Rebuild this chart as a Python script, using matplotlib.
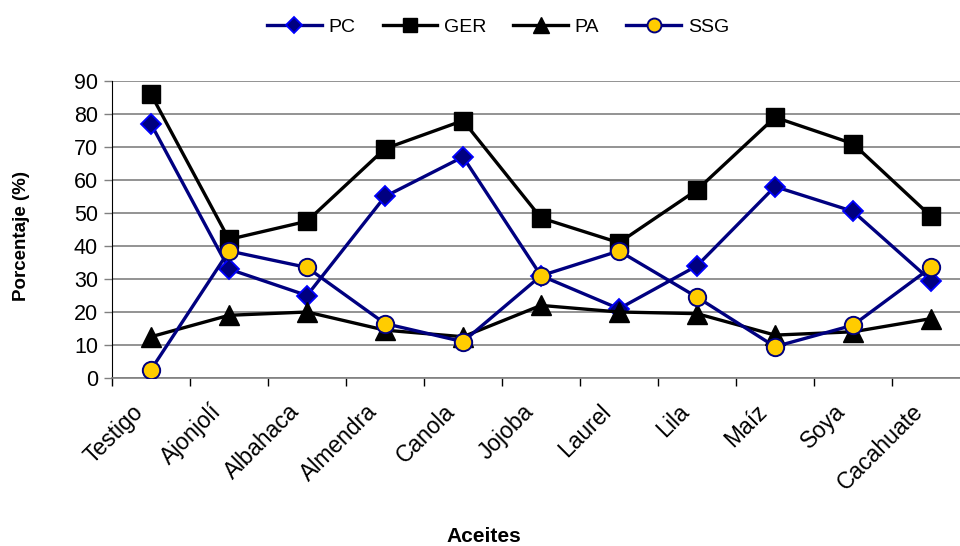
import matplotlib
matplotlib.use("Agg")
import matplotlib.pyplot as plt
import matplotlib.transforms as mtransforms
import numpy as np

plt.rcParams['font.family'] = ['Liberation Sans', 'DejaVu Sans']

categories = ["Testigo", "Ajonjolí", "Albahaca", "Almendra", "Canola", "Jojoba",
              "Laurel", "Lila", "Maíz", "Soya", "Cacahuate"]
pc = [77, 33, 25, 55, 67, 31, 21, 34, 58, 50.5, 29.5]
ger = [86, 42, 47.5, 69.5, 78, 48.5, 41, 57, 79, 71, 49]
pa = [12.5, 19, 20, 14.5, 12.5, 22, 20, 19.5, 13, 14, 18]
ssg = [2.5, 38.5, 33.5, 16.5, 11, 31, 38.5, 24.5, 9.5, 16, 33.5]
yticks = [0, 10, 20, 30, 40, 50, 60, 70, 80, 90]

fig = plt.figure(figsize=(9.6, 5.46), dpi=100)
ax = fig.add_axes([112/960, 1-378/546, 858/960, (378-81)/546])

x = np.arange(len(categories))
navy = "#000080"
lw = 2.4
ax.plot(x, pc, color=navy, lw=lw, marker='D', ms=10, mfc=navy, mec="#0000FF", mew=1.3, label="PC", zorder=3)
ax.plot(x, ger, color="black", lw=lw, marker='s', ms=12.5, mfc="black", mec="black", label="GER", zorder=3)
ax.plot(x, pa, color="black", lw=lw, marker='^', ms=14, mfc="black", mec="black", label="PA", zorder=3)
ax.plot(x, ssg, color=navy, lw=lw, marker='o', ms=12.5, mfc="#FFCC00", mec=navy, mew=1.4, label="SSG", zorder=4)

ax.set_xlim(-0.5, len(categories) - 0.5)
ax.set_ylim(0, 90)
ax.set_yticks(yticks)
ax.set_yticklabels([str(v) for v in yticks], fontsize=15.5)
ax.yaxis.grid(True, color="#808080", lw=1.2)
ax.set_axisbelow(True)
for s in ["top", "right"]:
    ax.spines[s].set_visible(False)
ax.spines["bottom"].set_color("#808080")
ax.spines["bottom"].set_linewidth(1.2)
ax.spines["left"].set_color("black")
ax.tick_params(axis='y', length=6, width=1, color="#808080", pad=4)

ax.set_xticks(x)
ax.set_xticklabels(categories, rotation=45, ha='right', va='top', rotation_mode='anchor',
                   fontsize=16.5)
ax.tick_params(axis='x', which='major', length=0, pad=16)
shift = mtransforms.ScaledTranslation(-14/72, 0, fig.dpi_scale_trans)
for lab in ax.get_xticklabels():
    lab.set_transform(lab.get_transform() + shift)
ax.set_xticks(np.arange(-0.5, len(categories)), minor=True)
ax.tick_params(axis='x', which='minor', length=6, width=1, color="black")

fig.text(22/960, 1-236/546, "Porcentaje (%)", rotation=90, fontsize=13.5, fontweight='bold',
         ha='center', va='center')
fig.text(484/960, 1-537/546, "Aceites", fontsize=15, fontweight='bold', ha='center', va='center')

leg = fig.legend(loc='center', bbox_to_anchor=(498/960, 1-27/546), ncol=4, frameon=False,
                 fontsize=14, handlelength=2.8, columnspacing=1.4, handletextpad=0.35,
                 markerscale=0.8)

fig.savefig("out.png", dpi=100)
